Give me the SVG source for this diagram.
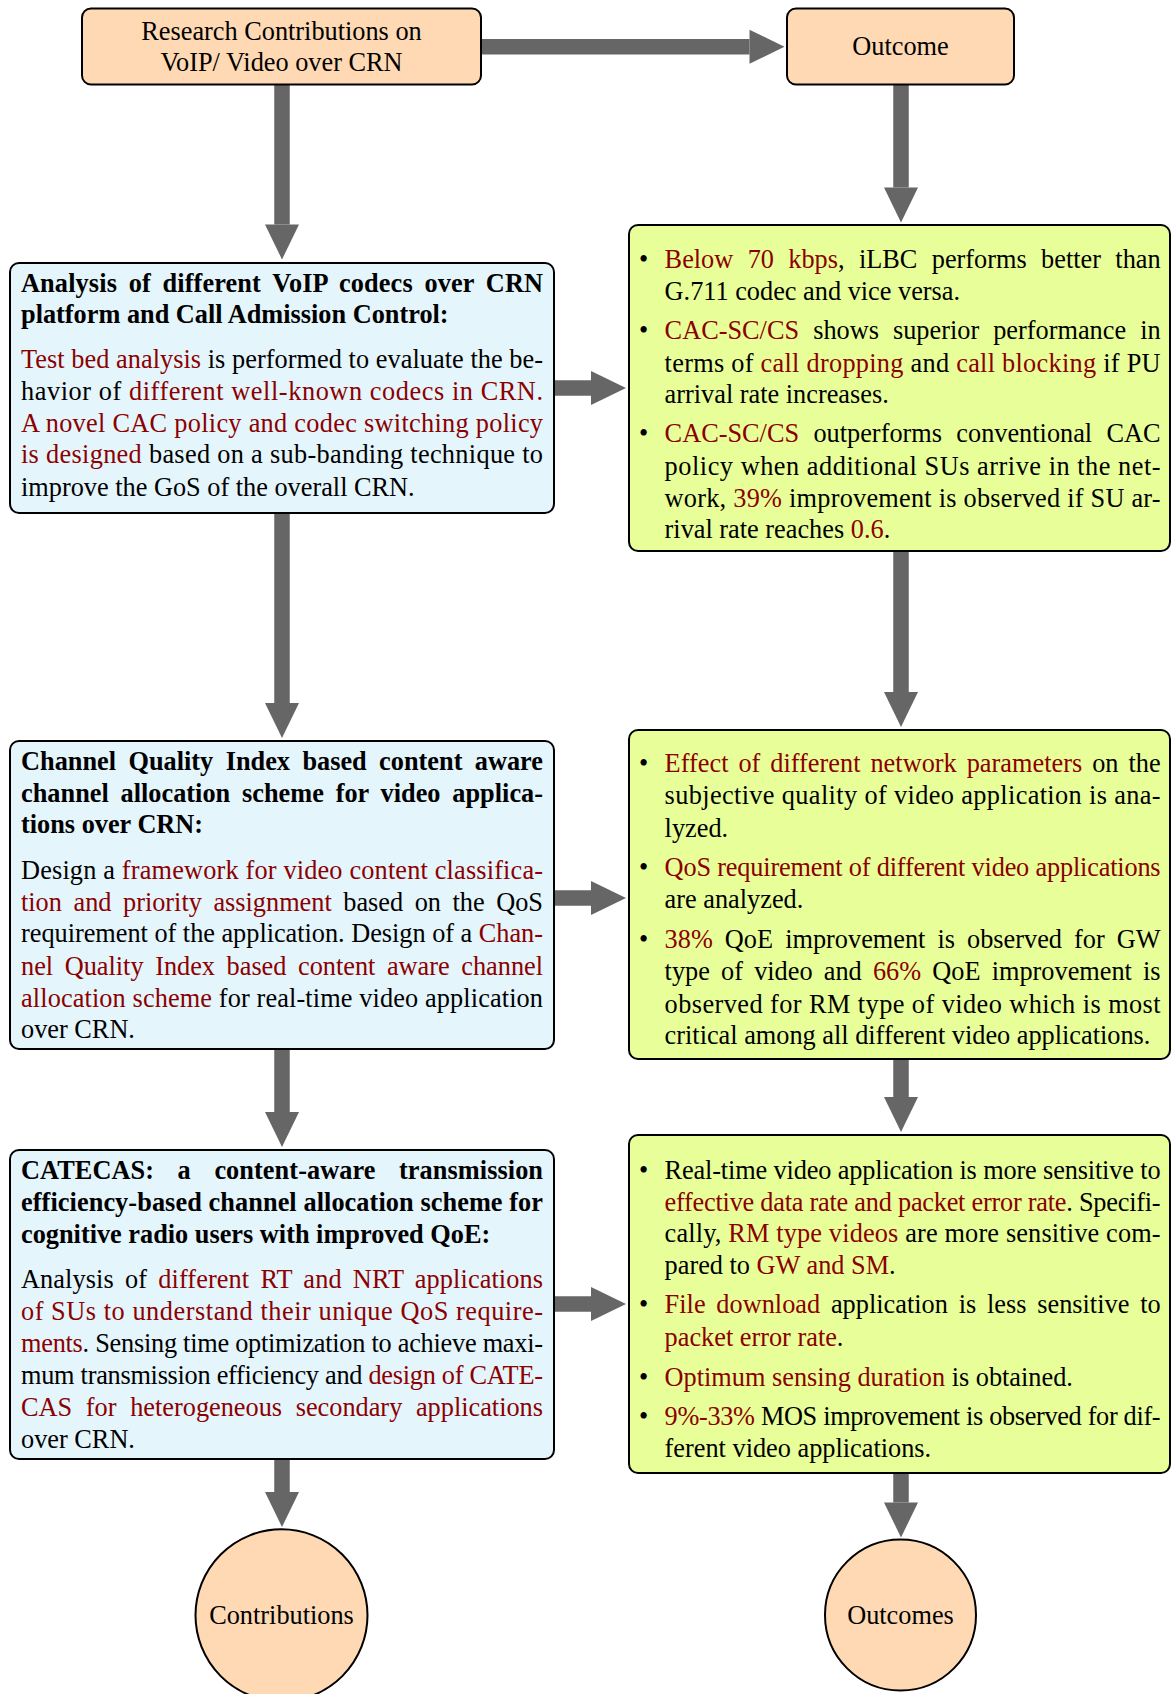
<svg xmlns="http://www.w3.org/2000/svg" width="1172" height="1694" viewBox="0 0 1172 1694">
  <style>
    .box { stroke: #000; stroke-width: 2; }
    .peach { fill: #FFD9B3; }
    .blue { fill: #E4F5FC; }
    .green { fill: #E8FF99; }
    .t { font-family: "Liberation Serif", "Times New Roman", serif; font-size: 26.3px; fill: #000; }
    .b { font-weight: bold; }
    .r { fill: #8B0000; }
    .c { text-anchor: middle; }
    .arrow { stroke: #666; stroke-width: 15.5; fill: none; marker-end: url(#head); }
  </style>
  <defs>
    <marker id="head" markerUnits="userSpaceOnUse" markerWidth="35" markerHeight="34" refX="0" refY="17" orient="auto" overflow="visible">
      <path d="M0,0 L35,17 L0,34 Z" fill="#666"/>
    </marker>
  </defs>

  <!-- connectors -->
  <g id="connectors">
    <line class="arrow" x1="481" y1="46.7" x2="749.5" y2="46.7"/>
    <line class="arrow" x1="282" y1="84" x2="282" y2="224.5"/>
    <line class="arrow" x1="901" y1="84" x2="901" y2="187.5"/>
    <line class="arrow" x1="554" y1="388" x2="591" y2="388"/>
    <line class="arrow" x1="282" y1="512" x2="282" y2="703"/>
    <line class="arrow" x1="901" y1="551" x2="901" y2="692"/>
    <line class="arrow" x1="554" y1="898" x2="591" y2="898"/>
    <line class="arrow" x1="282" y1="1049" x2="282" y2="1112"/>
    <line class="arrow" x1="901" y1="1059" x2="901" y2="1097"/>
    <line class="arrow" x1="554" y1="1304" x2="591" y2="1304"/>
    <line class="arrow" x1="282" y1="1459" x2="282" y2="1492"/>
    <line class="arrow" x1="901" y1="1473" x2="901" y2="1502.5"/>
  </g>

  <!-- top row -->
  <g id="research">
    <rect class="box peach" x="82" y="8.5" width="399" height="76" rx="9"/>
    <text class="t c" x="281.5" y="40">Research Contributions on</text>
    <text class="t c" x="281.5" y="71">VoIP/ Video over CRN</text>
  </g>
  <g id="outcome">
    <rect class="box peach" x="787" y="8.5" width="227" height="76" rx="9"/>
    <text class="t c" x="900.5" y="55">Outcome</text>
  </g>

  <!-- contribution 1 -->
  <g id="contrib-voip">
    <rect class="box blue" x="10" y="263" width="544" height="250" rx="9"/>
    <text class="t b" x="21" y="291.7" word-spacing="5" textLength="522" lengthAdjust="spacing">Analysis of different VoIP codecs over CRN</text>
    <text class="t b" x="21" y="322.7">platform and Call Admission Control:</text>
    <text class="t" x="21" y="368.3" textLength="522" lengthAdjust="spacing"><tspan class="r">Test bed analysis</tspan> is performed to evaluate the be-</text>
    <text class="t" x="21" y="400" textLength="522" lengthAdjust="spacing">havior of <tspan class="r">different well-known codecs in CRN.</tspan></text>
    <text class="t r" x="21" y="431.7" textLength="522" lengthAdjust="spacing">A novel CAC policy and codec switching policy</text>
    <text class="t" x="21" y="463.3" textLength="522" lengthAdjust="spacing"><tspan class="r">is designed</tspan> based on a sub-banding technique to</text>
    <text class="t" x="21" y="495.5">improve the GoS of the overall CRN.</text>
  </g>

  <!-- outcome 1 -->
  <g id="outcome-voip">
    <rect class="box green" x="629" y="225" width="541" height="326" rx="9"/>
    <text class="t" x="639" y="268.3">•</text>
    <text class="t" x="664.6" y="268.3" word-spacing="7.8" textLength="496" lengthAdjust="spacing"><tspan class="r">Below 70 kbps</tspan>, iLBC performs better than</text>
    <text class="t" x="664.6" y="300">G.711 codec and vice versa.</text>
    <text class="t" x="639" y="339">•</text>
    <text class="t" x="664.6" y="339" word-spacing="7.5" textLength="496" lengthAdjust="spacing"><tspan class="r">CAC-SC/CS</tspan> shows superior performance in</text>
    <text class="t" x="664.6" y="371.7" textLength="496" lengthAdjust="spacing">terms of <tspan class="r">call dropping</tspan> and <tspan class="r">call blocking</tspan> if PU</text>
    <text class="t" x="664.6" y="403.3">arrival rate increases.</text>
    <text class="t" x="639" y="442.3">•</text>
    <text class="t" x="664.6" y="442.3" word-spacing="7.8" textLength="496" lengthAdjust="spacing"><tspan class="r">CAC-SC/CS</tspan> outperforms conventional CAC</text>
    <text class="t" x="664.6" y="475" textLength="496" lengthAdjust="spacing">policy when additional SUs arrive in the net-</text>
    <text class="t" x="664.6" y="506.7" textLength="496" lengthAdjust="spacing">work, <tspan class="r">39%</tspan> improvement is observed if SU ar-</text>
    <text class="t" x="664.6" y="538.3">rival rate reaches <tspan class="r">0.6</tspan>.</text>
  </g>

  <!-- contribution 2 -->
  <g id="contrib-cqi">
    <rect class="box blue" x="10" y="741" width="544" height="308" rx="9"/>
    <text class="t b" x="21" y="770" word-spacing="5.8" textLength="522" lengthAdjust="spacing">Channel Quality Index based content aware</text>
    <text class="t b" x="21" y="801.7" word-spacing="5.2" textLength="522" lengthAdjust="spacing">channel allocation scheme for video applica-</text>
    <text class="t b" x="21" y="833.3">tions over CRN:</text>
    <text class="t" x="21" y="879" textLength="522" lengthAdjust="spacing">Design a <tspan class="r">framework for video content classifica-</tspan></text>
    <text class="t" x="21" y="911" word-spacing="5" textLength="522" lengthAdjust="spacing"><tspan class="r">tion and priority assignment</tspan> based on the QoS</text>
    <text class="t" x="21" y="942.3" textLength="522" lengthAdjust="spacing">requirement of the application. Design of a <tspan class="r">Chan-</tspan></text>
    <text class="t r" x="21" y="975" word-spacing="5" textLength="522" lengthAdjust="spacing">nel Quality Index based content aware channel</text>
    <text class="t" x="21" y="1006.7" textLength="522" lengthAdjust="spacing"><tspan class="r">allocation scheme</tspan> for real-time video application</text>
    <text class="t" x="21" y="1038.3">over CRN.</text>
  </g>

  <!-- outcome 2 -->
  <g id="outcome-cqi">
    <rect class="box green" x="629" y="730" width="541" height="329" rx="9"/>
    <text class="t" x="639" y="772.3">•</text>
    <text class="t" x="664.6" y="772.3" word-spacing="3.3" textLength="496" lengthAdjust="spacing"><tspan class="r">Effect of different network parameters</tspan> on the</text>
    <text class="t" x="664.6" y="804" textLength="496" lengthAdjust="spacing">subjective quality of video application is ana-</text>
    <text class="t" x="664.6" y="836.7">lyzed.</text>
    <text class="t" x="639" y="875.7">•</text>
    <text class="t r" x="664.6" y="875.7" textLength="496" lengthAdjust="spacing">QoS requirement of different video applications</text>
    <text class="t" x="664.6" y="908.3">are analyzed.</text>
    <text class="t" x="639" y="947.7">•</text>
    <text class="t" x="664.6" y="947.7" word-spacing="5.5" textLength="496" lengthAdjust="spacing"><tspan class="r">38%</tspan> QoE improvement is observed for GW</text>
    <text class="t" x="664.6" y="980" word-spacing="4.6" textLength="496" lengthAdjust="spacing">type of video and <tspan class="r">66%</tspan> QoE improvement is</text>
    <text class="t" x="664.6" y="1012.7" textLength="496" lengthAdjust="spacing">observed for RM type of video which is most</text>
    <text class="t" x="664.6" y="1044.3">critical among all different video applications.</text>
  </g>

  <!-- contribution 3 -->
  <g id="contrib-catecas">
    <rect class="box blue" x="10" y="1150" width="544" height="309" rx="9"/>
    <text class="t b" x="21" y="1179.3" word-spacing="16.9" textLength="522" lengthAdjust="spacing">CATECAS: a content-aware transmission</text>
    <text class="t b" x="21" y="1211" textLength="522" lengthAdjust="spacing">efficiency-based channel allocation scheme for</text>
    <text class="t b" x="21" y="1242.7">cognitive radio users with improved QoE:</text>
    <text class="t" x="21" y="1288.3" word-spacing="4.5" textLength="522" lengthAdjust="spacing">Analysis of <tspan class="r">different RT and NRT applications</tspan></text>
    <text class="t r" x="21" y="1320" textLength="522" lengthAdjust="spacing">of SUs to understand their unique QoS require-</text>
    <text class="t" x="21" y="1352.3" textLength="522" lengthAdjust="spacing"><tspan class="r">ments</tspan>. Sensing time optimization to achieve maxi-</text>
    <text class="t" x="21" y="1384" textLength="522" lengthAdjust="spacing">mum transmission efficiency and <tspan class="r">design of CATE-</tspan></text>
    <text class="t r" x="21" y="1416" word-spacing="7.1" textLength="522" lengthAdjust="spacing">CAS for heterogeneous secondary applications</text>
    <text class="t" x="21" y="1448.3">over CRN.</text>
  </g>

  <!-- outcome 3 -->
  <g id="outcome-catecas">
    <rect class="box green" x="629" y="1135" width="541" height="338" rx="9"/>
    <text class="t" x="639" y="1179.3">•</text>
    <text class="t" x="664.6" y="1179.3" textLength="496" lengthAdjust="spacing">Real-time video application is more sensitive to</text>
    <text class="t" x="664.6" y="1210.7" textLength="496" lengthAdjust="spacing"><tspan class="r">effective data rate and packet error rate</tspan>. Specifi-</text>
    <text class="t" x="664.6" y="1242.3" textLength="496" lengthAdjust="spacing">cally, <tspan class="r">RM type videos</tspan> are more sensitive com-</text>
    <text class="t" x="664.6" y="1274">pared to <tspan class="r">GW and SM</tspan>.</text>
    <text class="t" x="639" y="1313.3">•</text>
    <text class="t" x="664.6" y="1313.3" word-spacing="4.2" textLength="496" lengthAdjust="spacing"><tspan class="r">File download</tspan> application is less sensitive to</text>
    <text class="t" x="664.6" y="1346"><tspan class="r">packet error rate</tspan>.</text>
    <text class="t" x="639" y="1385.7">•</text>
    <text class="t" x="664.6" y="1385.7"><tspan class="r">Optimum sensing duration</tspan> is obtained.</text>
    <text class="t" x="639" y="1425">•</text>
    <text class="t" x="664.6" y="1425" textLength="496" lengthAdjust="spacing"><tspan class="r">9%-33%</tspan> MOS improvement is observed for dif-</text>
    <text class="t" x="664.6" y="1457.3">ferent video applications.</text>
  </g>

  <!-- end nodes -->
  <g id="contributions">
    <circle class="box peach" cx="281.5" cy="1615.3" r="86"/>
    <text class="t c" x="281.5" y="1624">Contributions</text>
  </g>
  <g id="outcomes">
    <circle class="box peach" cx="900.5" cy="1615" r="75.5"/>
    <text class="t c" x="900.5" y="1624">Outcomes</text>
  </g>
</svg>
